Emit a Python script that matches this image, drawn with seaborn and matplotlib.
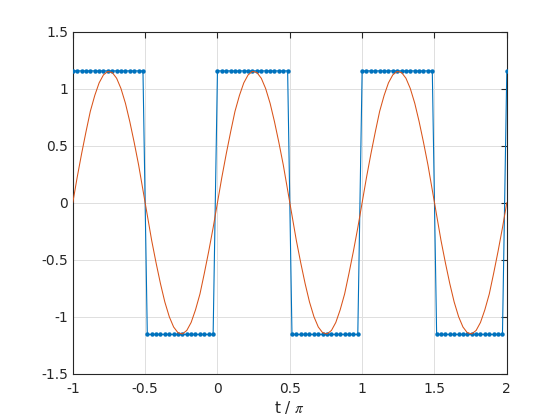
import matplotlib
matplotlib.use("Agg")
import matplotlib.pyplot as plt
import seaborn as sns
import pandas as pd

# sample times (t / pi)
t = [-1.000, -0.970, -0.939, -0.909, -0.879, -0.848, -0.818, -0.788, -0.758, -0.727,
     -0.697, -0.667, -0.636, -0.606, -0.576, -0.545, -0.515, -0.485, -0.455, -0.424,
     -0.394, -0.364, -0.333, -0.303, -0.273, -0.242, -0.212, -0.182, -0.152, -0.121,
     -0.091, -0.061, -0.030,
     0.000, 0.030, 0.061, 0.091, 0.121, 0.152, 0.182, 0.212, 0.242, 0.273,
     0.303, 0.333, 0.364, 0.394, 0.424, 0.455, 0.485, 0.515, 0.545, 0.576,
     0.606, 0.636, 0.667, 0.697, 0.727, 0.758, 0.788, 0.818, 0.848, 0.879,
     0.909, 0.939, 0.970,
     1.000, 1.030, 1.061, 1.091, 1.121, 1.152, 1.182, 1.212, 1.242, 1.273,
     1.303, 1.333, 1.364, 1.394, 1.424, 1.455, 1.485, 1.515, 1.545, 1.576,
     1.606, 1.636, 1.667, 1.697, 1.727, 1.758, 1.788, 1.818, 1.848, 1.879,
     1.909, 1.939, 1.970,
     2.000]

# square wave samples (blue)
square = [1.155, 1.155, 1.155, 1.155, 1.155, 1.155, 1.155, 1.155, 1.155, 1.155,
          1.155, 1.155, 1.155, 1.155, 1.155, 1.155, 1.155, -1.155, -1.155, -1.155,
          -1.155, -1.155, -1.155, -1.155, -1.155, -1.155, -1.155, -1.155, -1.155, -1.155,
          -1.155, -1.155, -1.155,
          1.155, 1.155, 1.155, 1.155, 1.155, 1.155, 1.155, 1.155, 1.155, 1.155,
          1.155, 1.155, 1.155, 1.155, 1.155, 1.155, 1.155, -1.155, -1.155, -1.155,
          -1.155, -1.155, -1.155, -1.155, -1.155, -1.155, -1.155, -1.155, -1.155, -1.155,
          -1.155, -1.155, -1.155,
          1.155, 1.155, 1.155, 1.155, 1.155, 1.155, 1.155, 1.155, 1.155, 1.155,
          1.155, 1.155, 1.155, 1.155, 1.155, 1.155, 1.155, -1.155, -1.155, -1.155,
          -1.155, -1.155, -1.155, -1.155, -1.155, -1.155, -1.155, -1.155, -1.155, -1.155,
          -1.155, -1.155, -1.155,
          1.155]

# sine samples (red)
sine = [0.00, 0.22, 0.43, 0.62, 0.80, 0.94, 1.05, 1.12, 1.15, 1.14,
        1.09, 1.00, 0.87, 0.71, 0.53, 0.33, 0.11, -0.11, -0.33, -0.53,
        -0.71, -0.87, -1.00, -1.09, -1.14, -1.15, -1.12, -1.05, -0.94, -0.80,
        -0.62, -0.43, -0.22,
        0.00, 0.22, 0.43, 0.62, 0.80, 0.94, 1.05, 1.12, 1.15, 1.14,
        1.09, 1.00, 0.87, 0.71, 0.53, 0.33, 0.11, -0.11, -0.33, -0.53,
        -0.71, -0.87, -1.00, -1.09, -1.14, -1.15, -1.12, -1.05, -0.94, -0.80,
        -0.62, -0.43, -0.22,
        0.00, 0.22, 0.43, 0.62, 0.80, 0.94, 1.05, 1.12, 1.15, 1.14,
        1.09, 1.00, 0.87, 0.71, 0.53, 0.33, 0.11, -0.11, -0.33, -0.53,
        -0.71, -0.87, -1.00, -1.09, -1.14, -1.15, -1.12, -1.05, -0.94, -0.80,
        -0.62, -0.43, -0.22,
        0.00]

xticks = [-1, -0.5, 0, 0.5, 1, 1.5, 2]
xticklabels = ["-1", "-0.5", "0", "0.5", "1", "1.5", "2"]
yticks = [-1.5, -1, -0.5, 0, 0.5, 1, 1.5]
yticklabels = ["-1.5", "-1", "-0.5", "0", "0.5", "1", "1.5"]

df = pd.DataFrame({"t": t, "square": square, "sine": sine})

sns.set_style("white")
plt.rcParams["font.family"] = ["DejaVu Sans"]
plt.rcParams["mathtext.fontset"] = "stix"

fig = plt.figure(figsize=(5.6, 4.2), dpi=100)
ax = fig.add_axes([0.13, 0.11, 0.775, 0.815])

sns.lineplot(data=df, x="t", y="square", ax=ax, sort=False, estimator=None,
             color="#0072BD", linewidth=0.8, marker="o", markersize=3.2,
             markeredgewidth=0, zorder=3)
sns.lineplot(data=df, x="t", y="sine", ax=ax, sort=False, estimator=None,
             color="#D95319", linewidth=0.75, zorder=4)

ax.set_xlim(-1, 2)
ax.set_ylim(-1.5, 1.5)
ax.set_xticks(xticks)
ax.set_xticklabels(xticklabels)
ax.set_yticks(yticks)
ax.set_yticklabels(yticklabels)
ax.grid(True, color="#dfdfdf", linewidth=0.7)
ax.set_axisbelow(True)

for s in ax.spines.values():
    s.set_visible(True)
    s.set_color("#262626")
    s.set_linewidth(0.8)

ax.tick_params(direction="in", length=4, width=0.8, colors="#262626",
               labelsize=10, top=True, right=True, labelcolor="#262626")
ax.tick_params(axis="x", pad=6)
ax.set_xlabel("t / $\\mathit{\\pi}$", fontsize=11, color="#262626", labelpad=2)
ax.set_ylabel("")

fig.savefig("out.png", dpi=100)
